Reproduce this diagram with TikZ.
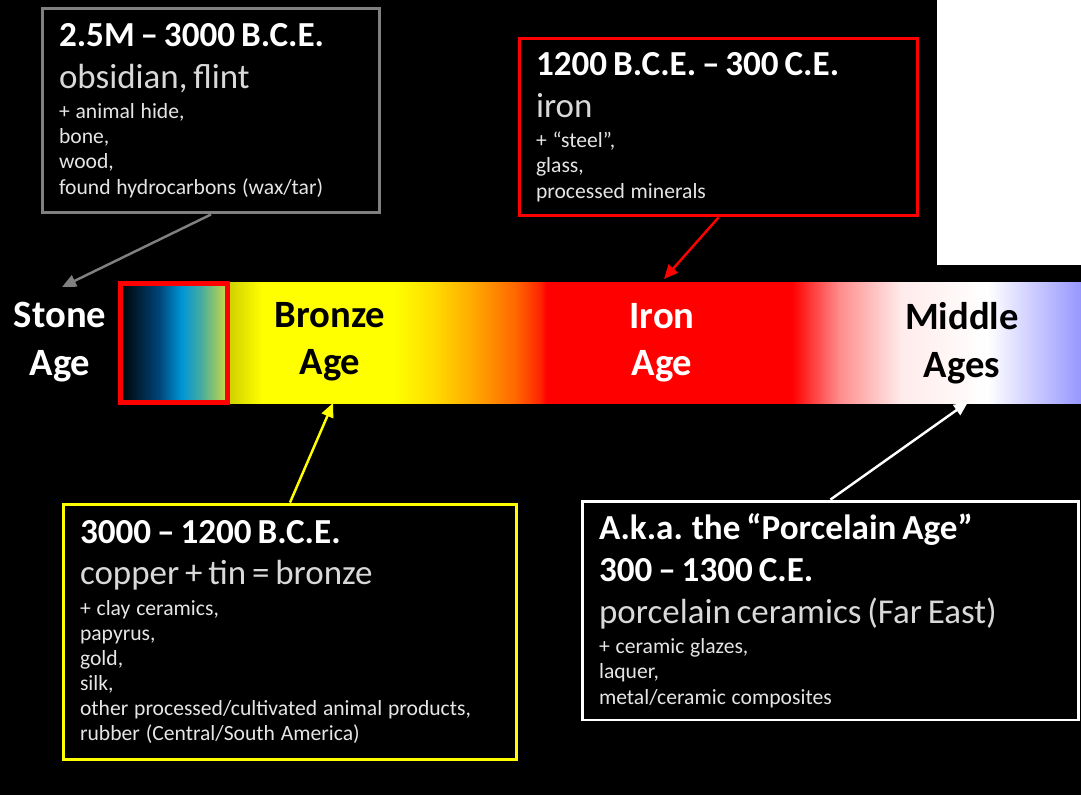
\documentclass[tikz,border=0pt]{standalone}
\usepackage{fontspec}
\setmainfont{Carlito}
\usetikzlibrary{positioning,arrows.meta}

\definecolor{stonegray}{RGB}{128,128,128}
\definecolor{bronzeyel}{RGB}{255,255,0}
\definecolor{ironred}{RGB}{255,0,0}
\definecolor{softwhite}{RGB}{217,217,217}

% colour runs of the time bar (left to right)
\pgfdeclarehorizontalshading{stoneshade}{100bp}{rgb(0bp)=(0,0,0); rgb(25bp)=(0,0,0);
  rgb(43bp)=(0,.27,.47); rgb(53.6bp)=(0,.59,.84); rgb(62.4bp)=(.27,.67,.63);
  rgb(75bp)=(.82,.86,.24); rgb(100bp)=(.82,.86,.24)}
\pgfdeclarehorizontalshading{barshade}{100bp}{rgb(0bp)=(.82,.82,0); rgb(25bp)=(.82,.82,0);
  rgb(26.9bp)=(1,1,0); rgb(34.6bp)=(1,1,0); rgb(37bp)=(1,.86,0); rgb(39.3bp)=(1,.66,0);
  rgb(41.8bp)=(1,.4,0); rgb(43.2bp)=(1,.15,0); rgb(43.6bp)=(1,0,0); rgb(58bp)=(1,0,0);
  rgb(60.8bp)=(1,.55,.55); rgb(64.4bp)=(1,.92,.92);
  rgb(69.5bp)=(1,1,1); rgb(75bp)=(.59,.59,1); rgb(100bp)=(.59,.59,1)}

\newcommand{\erahead}{\bfseries\color{white}\fontsize{20}{24}\selectfont}
\newcommand{\eramat}{\color{softwhite}\fontsize{19.9}{23.8}\selectfont}
\newcommand{\eranote}{\color{white!90!black}\fontsize{12.3}{14.3}\selectfont}

\tikzset{
  erabox/.style={draw=#1, line width=1.7pt, fill=black, align=left,
    inner xsep=.34cm, inner ysep=0pt},
  agelbl/.style={align=center, font=\bfseries\fontsize{22}{27}\selectfont},
  pointer/.style={draw=#1, line width=1.4pt, -{Triangle[length=8pt,width=7pt]}}
}

\begin{document}
\begin{tikzpicture}[x=.02cm,y=-.02cm]
\fill[black] (0,0) rectangle (1081,795);
\useasboundingbox (0,0) rectangle (1081,795);
\fill[white] (937,0) rectangle (1081,265);
% Time bar.
\shade[shading=barshade] (230,282) rectangle (1081,403);
\shade[shading=stoneshade] (120,283) rectangle (228,403);
\draw[ironred, line width=2.8pt] (120.5,283.5) rectangle (227.5,402.5);
% Age names on the bar.
\node[agelbl, text=white] (stonelbl) at (60,342) {Stone\\Age};
\node[agelbl] (bronzelbl) at (330,342) {Bronze\\Age};
\node[agelbl, text=white] (ironlbl) at (662,343) {Iron\\Age};
\node[agelbl] (middlelbl) at (962,343) {Middle\\Ages};
% Material boxes.
\node[erabox=stonegray, text width=6.08cm, minimum height=4.1cm] (stonebox) at (211,110.5)
  {{\erahead 2.5M – 3000 B.C.E.\par}{\eramat obsidian, flint\par}\vspace{3pt}
   {\eranote + animal hide,\\bone,\\wood,\\found hydrocarbons (wax/tar)\par}};
\node[erabox=ironred, text width=7.3cm, minimum height=3.56cm] (ironbox) at (718.5,127)
  {{\erahead 1200 B.C.E. – 300 C.E.\par}{\eramat iron\par}\vspace{3pt}
   {\eranote + “steel”,\\glass,\\processed minerals\par}};
\node[erabox=bronzeyel, text width=8.4cm, minimum height=5.12cm] (bronzebox) at (290,632)
  {{\erahead 3000 – 1200 B.C.E.\par}{\eramat copper + tin = bronze\par}\vspace{3pt}
   {\eranote + clay ceramics,\\papyrus,\\gold,\\silk,\\other processed/cultivated animal products,\\rubber (Central/South America)\par}};
\node[erabox=white, text width=9.26cm, minimum height=4.38cm] (middlebox) at (830.5,610.5)
  {{\erahead A.k.a. the “Porcelain Age”\\300 – 1300 C.E.\par}{\eramat porcelain ceramics (Far East)\par}\vspace{3pt}
   {\eranote + ceramic glazes,\\laquer,\\metal/ceramic composites\par}};
% Pointers to the bar.
\coordinate (stonetip) at (62,287);
\coordinate (irontip) at (664,279);
\coordinate (bronzetip) at (333,403);
\coordinate (middletip) at (968,402);
\draw[pointer=stonegray] (stonebox.south) -- (stonetip);
\draw[pointer=ironred] (ironbox.south) -- (irontip);
\draw[pointer=bronzeyel] (bronzebox.north) -- (bronzetip);
\draw[pointer=white] (middlebox.north) -- (middletip);
\end{tikzpicture}
\end{document}
